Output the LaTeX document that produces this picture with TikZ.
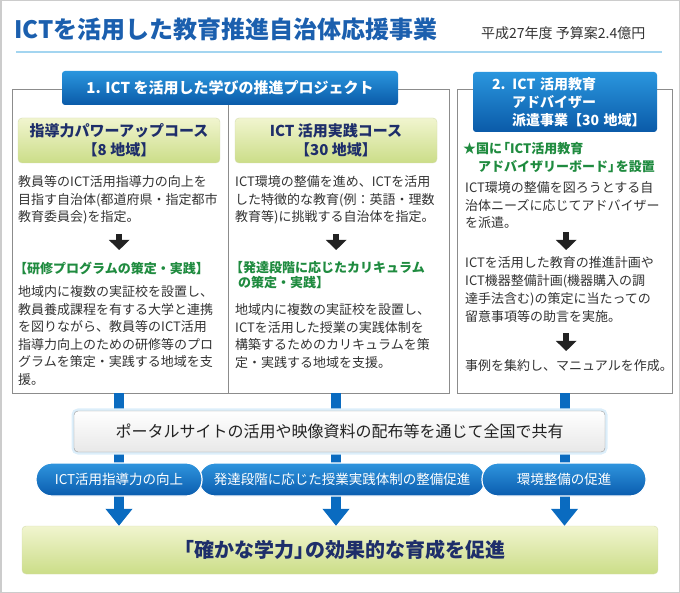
\documentclass[tikz,border=0pt]{standalone}
\usepackage{fontspec}
\setmainfont{Noto Sans CJK JP}
\usetikzlibrary{arrows.meta,positioning,calc}
\definecolor{EduTitle}{HTML}{1B5FAE}
\definecolor{EduRule}{HTML}{A3D5F0}
\definecolor{EduTabTop}{HTML}{2A96DE}
\definecolor{EduTabBot}{HTML}{0A5AA8}
\definecolor{EduLeafTop}{HTML}{F1F5CF}
\definecolor{EduLeafBot}{HTML}{CBDD88}
\definecolor{EduLeafLine}{HTML}{D5DDB0}
\definecolor{EduNavy}{HTML}{1E2E6A}
\definecolor{EduGreen}{HTML}{1F8B3F}
\definecolor{EduText}{HTML}{333333}
\definecolor{EduDark}{HTML}{222222}
\definecolor{EduFrame}{HTML}{8C8C8C}
\definecolor{EduBar}{HTML}{0A6BC0}
\definecolor{EduGlow}{HTML}{DCEEFA}
\definecolor{EduBorder}{HTML}{CCCCCC}
\definecolor{EduPillTop}{HTML}{2F95DE}
\definecolor{EduPillBot}{HTML}{0A5CAE}

\begin{document}
\begin{tikzpicture}[x=1pt,y=-1pt,
    secbox/.style={draw=EduFrame,line width=0.8pt,fill=white,inner sep=0pt},
    tab/.style={rounded corners=3pt,top color=EduTabTop,bottom color=EduTabBot,text=white,font=\fontsize{15}{18}\selectfont\bfseries},
    leaf/.style={rounded corners=4pt,top color=EduLeafTop,bottom color=EduLeafBot,draw=EduLeafLine,text=EduNavy,align=center,minimum width=202pt,minimum height=45pt,font=\fontsize{15}{19}\selectfont\bfseries},
    para/.style={anchor=north west,inner sep=0pt,text=EduText,align=left,font=\fontsize{13}{17.5}\selectfont},
    greenhead/.style={anchor=north west,inner sep=0pt,text=EduGreen,align=left,font=\fontsize{13}{15}\selectfont\bfseries},
    blk/.style={line width=6.5pt,EduDark,-{Triangle[width=20pt,length=10pt]}},
    bar/.style={line width=10pt,EduBar,-{Triangle[width=26pt,length=17pt]}},
    pill/.style={rounded corners=16pt,top color=EduPillTop,bottom color=EduPillBot,draw=white,line width=1.2pt,text=white,minimum height=33pt,font=\fontsize{13.5}{16}\selectfont}]
  \useasboundingbox (0,0) rectangle (680,593);
  \draw[EduBorder,line width=1.5pt] (0.75,0.75) rectangle (679.25,592.25);

  % title
  \node[anchor=west,inner sep=0pt,text=EduTitle,font=\fontsize{24}{24}\selectfont\bfseries] (title) at (14,29) {ICTを活用した教育推進自治体応援事業};
  \node[anchor=west,inner sep=0pt,text=EduText,font=\fontsize{14}{14}\selectfont] (budget) at (481,33) {平成27年度 予算案2.4億円};
  \draw[EduRule,line width=2.7pt] (16,52) -- (662,52);

  % project 1
  \node[secbox,minimum width=437pt,minimum height=304pt] (sec1) at (230.5,241) {};
  \node[tab,minimum width=336pt,minimum height=34pt] (tab1) at (230,88) {1. ICT を活用した学びの推進プロジェクト};
  \coordinate (split) at (228,0);
  \draw[EduFrame,line width=0.8pt] (tab1.south -| split) -- (sec1.south -| split);

  \node[leaf] (leafA) at (119,140.5) {指導力パワーアップコース\\【8 地域】};
  \node[leaf] (leafB) at (336,140.5) {ICT 活用実践コース\\【30 地域】};

  \node[para,text width=202pt] (paraA) at (18,175.5) {教員等のICT活用指導力の向上を\\目指す自治体(都道府県・指定都市\\教育委員会)を指定。};
  \node[greenhead] (headA) at (14,261.5) {【研修プログラムの策定・実践】};
  \node[para] (paraA2) at (18,285.5) {地域内に複数の実証校を設置し、\\教員養成課程を有する大学と連携\\を図りながら、教員等のICT活用\\指導力向上のための研修等のプロ\\グラムを策定・実践する地域を支\\援。};
  \draw[blk] ($(paraA.south)+(0,9.5)$) -- ($(paraA.south |- headA.north)+(0,-11.5)$);

  \node[para,text width=202pt] (paraB) at (235,175.5) {ICT環境の整備を進め、ICTを活用\\した特徴的な教育(例：英語・理数\\教育等)に挑戦する自治体を指定。};
  \node[greenhead] (headB) at (230,261.5) {【発達段階に応じたカリキュラム\\\hspace*{0.6em}の策定・実践】};
  \node[para] (paraB2) at (235,303.5) {地域内に複数の実証校を設置し、\\ICTを活用した授業の実践体制を\\構築するためのカリキュラムを策\\定・実践する地域を支援。};
  \draw[blk] ($(paraB.south)+(0,9.5)$) -- ($(paraB.south |- headB.north)+(0,-11.5)$);

  % project 2
  \node[secbox,minimum width=215pt,minimum height=304pt] (sec2) at (564.5,241) {};
  \node[tab,align=left,text width=170pt,minimum width=184pt,minimum height=60pt,font=\fontsize{14}{18}\selectfont\bfseries] (tab2) at (565,102) {\hspace*{12pt}2. ICT 活用教育\\\hspace*{32pt}アドバイザー\\\hspace*{32pt}派遣事業【30 地域】};
  \node[greenhead,font=\fontsize{13}{18}\selectfont\bfseries] (headC) at (463,142.5) {★国に\kern-0.4em「ICT活用教育\\\hspace*{1.15em}アドバイザリーボード」\kern-0.4em を設置};
  \node[para,text width=202pt] (paraC) at (465,181.5) {ICT環境の整備を図ろうとする自\\治体ニーズに応じてアドバイザー\\を派遣。};
  \node[para,text width=202pt,font=\fontsize{13}{18}\selectfont] (paraC2) at (465,256.5) {ICTを活用した教育の推進計画や\\ICT機器整備計画(機器購入の調\\達手法含む)の策定に当たっての\\留意事項等の助言を実施。};
  \node[para,text width=202pt] (paraC3) at (465,359.5) {事例を集約し、マニュアルを作成。};
  \draw[blk] ($(paraC.south)+(0,3.5)$) -- ($(paraC2.north)+(0,-6.5)$);
  \draw[blk] ($(paraC2.south)+(0,10.5)$) -- ($(paraC3.north)+(0,-8.5)$);

  % goal and bars
  \node[rounded corners=4pt,top color=EduLeafTop,bottom color=EduLeafBot,draw=EduLeafLine,text=EduNavy,minimum width=636pt,minimum height=48pt,font=\fontsize{20}{20}\selectfont\bfseries] (goal) at (340,550) {「確かな学力」\kern-0.45em の効果的な育成を促進};
  \draw[bar] (sec1.south -| leafA) -- (goal.north -| leafA);
  \draw[bar] (sec1.south -| leafB) -- (goal.north -| leafB);
  \draw[bar] (sec2.south) -- (goal.north -| sec2.south);

  \node[rounded corners=4pt,top color=white,bottom color=black!9,draw=black!40,preaction={draw=EduGlow,line width=5pt},minimum width=531pt,minimum height=41pt,text=EduDark,font=\fontsize{16}{16}\selectfont] (portal) at (339.5,431.5) {ポータルサイトの活用や映像資料の配布等を通じて全国で共有};

  \node[pill,minimum width=286pt] (pillB) at (342,479.5) {発達段階に応じた授業実践体制の整備促進};
  \node[pill,minimum width=166pt] (pillA) at (119,479.5) {ICT活用指導力の向上};
  \node[pill,minimum width=164pt] (pillC) at (564,479.5) {環境整備の促進};
\end{tikzpicture}
\end{document}
